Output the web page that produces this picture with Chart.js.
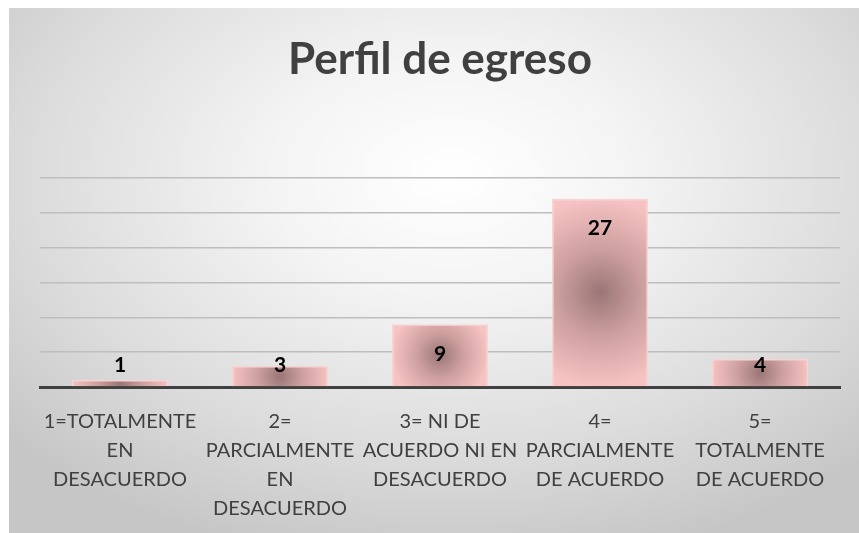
<!DOCTYPE html>
<html>
<head>
<meta charset="utf-8">
<script src="https://cdn.jsdelivr.net/npm/chart.js@4.4.1/dist/chart.umd.min.js"></script>
<style>
  html, body { margin: 0; padding: 0; background: #ffffff; }
  #wrap {
    position: absolute; left: 9px; top: 8px; width: 850px; height: 525px;
    background: radial-gradient(ellipse 70% 75% at 52% 32%, #ffffff 0%, #f4f4f4 30%, #dcdcdc 70%, #c6c6c6 100%);
  }
</style>
</head>
<body>
<div id="wrap"><canvas id="chart" width="850" height="525"></canvas></div>
<script>
const titleText = 'Perfil de egreso';
const categories = [
    ['1=TOTALMENTE', 'EN', 'DESACUERDO'],
    ['2=', 'PARCIALMENTE', 'EN', 'DESACUERDO'],
    ['3= NI DE', 'ACUERDO NI EN', 'DESACUERDO'],
    ['4=', 'PARCIALMENTE', 'DE ACUERDO'],
    ['5=', 'TOTALMENTE', 'DE ACUERDO']
];
const values = [1, 3, 9, 27, 4];
const yMax = 30;
const yStep = 5;

// radial shading on each bar, like the office "path" gradient
const barShade = {
    id: 'barShade',
    beforeDatasetsDraw(chart) {
        const ctx = chart.ctx;
        chart.getDatasetMeta(0).data.forEach(bar => {
            const top = Math.min(bar.y, bar.base);
            const h = Math.abs(bar.base - bar.y);
            const cy = top + h / 2;
            const r = Math.max(bar.width, h) / 2;
            const g = ctx.createRadialGradient(bar.x, cy, 0, bar.x, cy, r);
            g.addColorStop(0, '#9a7676');
            g.addColorStop(0.45, '#cc9e9e');
            g.addColorStop(1, '#f6c2c2');
            bar.options.backgroundColor = g;
        });
    }
};

const valueLabels = {
    id: 'valueLabels',
    afterDatasetsDraw(chart) {
        const ctx = chart.ctx;
        ctx.save();
        ctx.font = 'bold 21px Lato';
        ctx.fillStyle = '#000000';
        ctx.textAlign = 'center';
        ctx.textBaseline = 'middle';
        chart.getDatasetMeta(0).data.forEach((bar, i) => {
            const y = Math.min(bar.y + 30, bar.base - 21);
            ctx.fillText(values[i], bar.x, y);
        });
        ctx.restore();
    }
};

new Chart(document.getElementById('chart'), {
    type: 'bar',
    data: {
        labels: categories,
        datasets: [{
            data: values,
            backgroundColor: () => '#f6c2c2',
            borderColor: '#f9d2d2',
            borderWidth: 1.5,
            categoryPercentage: 0.6,
            barPercentage: 1
        }]
    },
    options: {
        responsive: false,
        animation: false,
        layout: { padding: { left: 31, right: 19, bottom: -2, top: 0 } },
        plugins: {
            legend: { display: false },
            tooltip: { enabled: false },
            title: {
                display: true,
                text: titleText,
                color: '#404040',
                font: { family: 'Lato', size: 44, weight: 'bold' },
                padding: { top: 25, bottom: 92 }
            }
        },
        scales: {
            x: {
                grid: { display: false },
                border: { color: '#404040', width: 3 },
                ticks: {
                    color: '#404040',
                    font: { family: 'Lato', size: 20, lineHeight: 1.45 },
                    maxRotation: 0,
                    autoSkip: false,
                    padding: 12
                }
            },
            y: {
                min: 0,
                max: yMax,
                ticks: { display: false, stepSize: yStep },
                border: { display: false },
                grid: { color: '#bebebe', lineWidth: 1.5, drawTicks: false }
            }
        }
    },
    plugins: [barShade, valueLabels]
});
</script>
</body>
</html>
